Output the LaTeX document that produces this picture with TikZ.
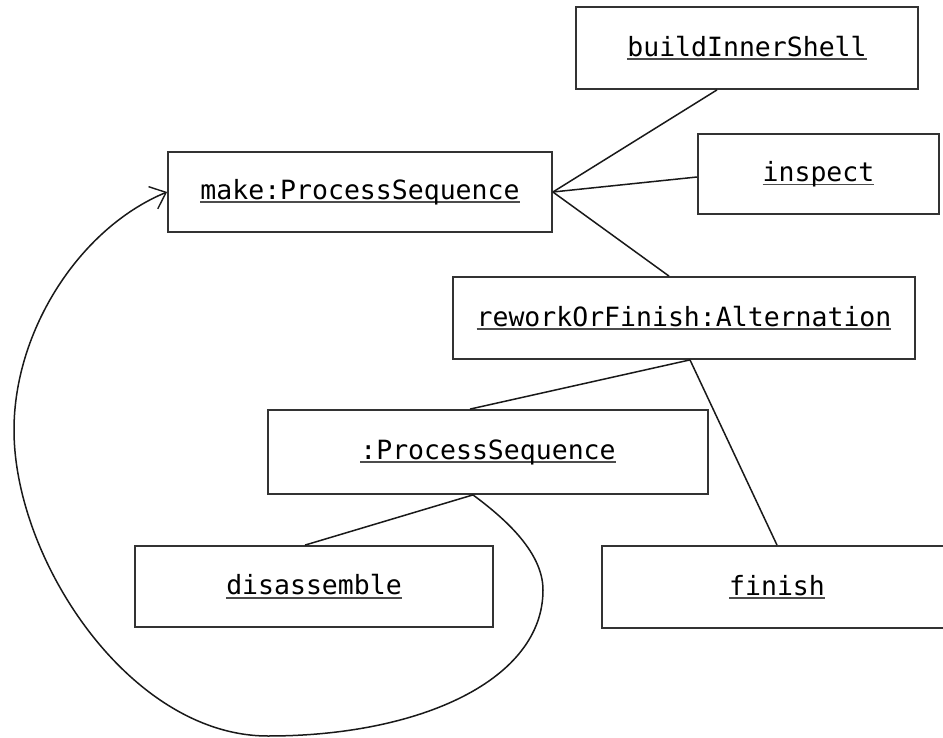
\documentclass[tikz,border=0pt]{standalone}
\usepackage{fontspec}
\setmonofont{DejaVu Sans Mono}
\usetikzlibrary{arrows.meta}
\newlength\ulwd
\newcommand\ulin[1]{\settowidth\ulwd{#1}\rlap{\color{black!70}\rule[-4pt]{\ulwd}{1.8pt}}#1}
\tikzset{
  obj/.style={draw=black!80, line width=1.8pt, rectangle, inner sep=0pt, align=center,
    font=\fontsize{26.5}{30}\selectfont\ttfamily},
  link/.style={line width=1.5pt, draw=black!90},
}
\begin{document}
\begin{tikzpicture}[x=1pt,y=1pt]
\useasboundingbox (0,0) rectangle (943,-738);
\node[obj, minimum width=342pt, minimum height=82pt] (bis) at (747,-48) {\ulin{buildInnerShell}};
\node[obj, minimum width=241pt, minimum height=80pt] (insp) at (818.5,-174) {\ulin{inspect}};
\node[obj, minimum width=384pt, minimum height=80pt] (make) at (360,-192) {\ulin{make:ProcessSequence}};
\node[obj, minimum width=462pt, minimum height=82pt] (rework) at (684,-318) {\ulin{reworkOrFinish:Alternation}};
\node[obj, minimum width=440pt, minimum height=84pt] (ps) at (488,-452) {\ulin{:ProcessSequence}};
\node[obj, minimum width=358pt, minimum height=81pt] (dis) at (314,-586.5) {\ulin{disassemble}};
\node[obj, minimum width=350pt, minimum height=82pt] (fin) at (777,-587) {\ulin{finish}};

\draw[link] (make.east) -- ([xshift=-30pt]bis.south);
\draw[link] (make.east) -- ([yshift=-3pt]insp.west);
\draw[link] (make.east) -- ([xshift=-15pt]rework.north);
\draw[link] ([xshift=6pt]rework.south) -- ([xshift=-18pt]ps.north);
\draw[link] ([xshift=6pt]rework.south) -- (fin.north);
\draw[link] ([xshift=-15pt]ps.south) -- ([xshift=-9pt]dis.north);
\coordinate (r1) at (543,-590);
\coordinate (r2) at (268,-736);
\coordinate (r3) at (14,-430);
\draw[link, -{Straight Barb[length=14pt,width=24pt,line width=1.4pt]}]
  ([xshift=-15pt]ps.south) .. controls (500,-515) and (543,-550) .. (r1)
  .. controls (543,-680) and (420,-736) .. (r2)
  .. controls (130,-736) and (14,-560) .. (r3)
  .. controls (14,-330) and (80,-228) .. (make.west);
\end{tikzpicture}
\end{document}
